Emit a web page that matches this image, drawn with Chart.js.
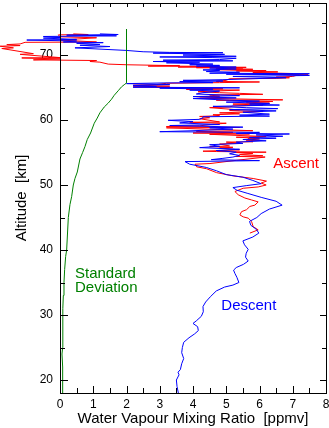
<!DOCTYPE html>
<html>
<head>
<meta charset="utf-8">
<script src="https://cdn.jsdelivr.net/npm/chart.js@4/dist/chart.umd.min.js"></script>
<style>
  html, body { margin: 0; padding: 0; background: #fff; }
  #wrap { width: 329px; height: 428px; }
</style>
</head>
<body>
<div id="wrap"><canvas id="chart" width="329" height="428"></canvas></div>
<script>
// [mixing ratio ppmv, altitude km]
const descent = [
  [3.56,18.0],[3.52,19.0],[3.50,20.0],[3.58,20.8],[3.55,21.2],[3.62,21.6],[3.66,22.5],[3.72,23.3],
  [3.66,24.2],[3.68,25.0],[3.72,25.8],[3.88,26.5],[4.05,27.1],[4.16,27.6],[4.14,28.2],[4.00,28.7],
  [4.10,29.1],[4.25,29.8],[4.31,30.5],[4.30,31.3],[4.38,32.0],[4.52,32.8],[4.70,33.7],[4.95,34.3],
  [5.20,34.6],[5.38,35.0],[5.32,35.8],[5.26,36.4],[5.22,36.9],[5.30,37.3],[5.52,37.8],[5.66,38.3],
  [5.58,38.9],[5.60,39.5],[5.66,40.1],[5.55,40.8],[5.50,41.4],[5.80,42.0],[5.98,42.6],[5.90,43.2],
  [5.74,43.8],[5.70,44.4],[5.92,45.0],[6.05,45.6],[6.30,46.3],[6.68,46.9],[6.50,47.5],[6.05,48.1],
  [5.65,48.7],[5.32,49.2],[5.20,49.6],[5.60,49.9],[6.05,50.2],[5.80,50.7],[5.50,51.2],[5.00,51.6],
  [4.70,52.2],[4.40,52.7],[3.90,53.2],[3.76,53.6],[6.00,53.75],[4.55,53.9],[4.90,54.1],[5.20,54.3],
  [5.40,54.55],[5.10,54.8],[5.30,55.05],[4.70,55.3],[5.40,55.5],[4.20,55.75],[4.80,55.95],[4.50,56.2],
  [5.50,56.4],[5.30,56.6],[6.20,56.8],[5.50,57.0],[6.50,57.2],[5.70,57.3],[6.70,57.5],[5.90,57.7],
  [6.90,57.85],[5.30,57.95],[6.00,58.1],[3.00,58.2],[4.00,58.35],[5.20,58.6],[4.50,58.8],[5.50,58.9],
  [3.30,59.15],[4.80,59.3],[3.60,59.55],[4.00,59.75],[3.25,59.95],[4.20,60.1],[4.30,60.35],[4.30,60.5],
  [6.30,60.6],[5.40,60.75],[6.30,60.9],[5.50,61.2],[6.50,61.4],[5.10,61.6],[6.55,61.75],[5.60,61.9],
  [4.60,62.1],[5.60,62.2],[6.60,62.3],[5.70,62.45],[6.30,62.55],[5.00,62.75],[6.00,62.9],[5.10,63.05],
  [4.00,63.3],[5.30,63.4],[4.00,63.6],[5.40,63.75],[4.10,64.0],[4.30,64.2],[4.80,64.45],[3.90,64.6],
  [4.60,64.75],[3.00,64.9],[5.40,64.95],[2.20,65.05],[2.90,65.15],[2.20,65.3],[3.30,65.45],[2.00,65.6],
  [3.10,65.7],[4.60,65.75],[3.60,65.9],[4.90,66.0],[3.70,66.1],[4.90,66.2],[6.10,66.4],[6.80,66.5],
  [5.20,66.7],[7.50,66.85],[7.20,66.95],[5.00,67.05],[7.50,67.12],[4.50,67.2],[5.40,67.35],[4.40,67.45],
  [4.80,67.6],[4.30,67.7],[5.30,67.85],[4.50,68.0],[5.30,68.15],[4.10,68.3],[4.80,68.4],[3.90,68.5],
  [4.60,68.6],[3.20,68.8],[4.20,68.9],[2.80,69.0],[5.20,69.1],[3.10,69.2],[4.80,69.3],[5.30,69.5],
  [4.60,69.6],[3.00,69.7],[5.30,69.8],[3.70,70.0],[4.95,70.1],[2.80,70.3],[4.90,70.35],[3.30,70.4],
  [2.50,70.5],[2.00,70.7],[0.45,71.1],[1.50,71.3],[0.60,71.5],[1.20,71.6],[0.50,71.8],[1.30,71.9],
  [0.10,72.0],[0.50,72.15],[-1.00,72.3],[0.50,72.4],[-0.50,72.6],[0.00,72.7],[-0.50,72.85],[1.70,72.95],
  [0.20,73.05],[1.75,73.15],[1.20,73.25]
];

const ascent = [
  [5.71,42.6],[5.96,43.1],[5.81,43.6],[5.76,44.4],[5.66,44.9],[5.51,45.1],[5.41,45.4],[5.46,45.9],
  [5.61,46.2],[5.71,46.7],[5.86,46.9],[5.96,47.4],[5.76,47.7],[5.56,48.0],[5.36,48.5],[5.26,49.0],
  [5.51,49.5],[5.96,49.7],[6.20,50.0],[6.05,50.3],[6.21,50.6],[5.81,51.0],[5.21,51.4],[4.71,51.9],
  [4.41,52.5],[4.11,52.8],[4.06,53.2],[4.51,53.3],[5.31,53.8],[6.17,54.3],[5.30,54.4],[6.10,54.5],
  [5.40,54.7],[5.80,54.85],[5.30,55.0],[6.20,55.05],[4.70,55.15],[4.30,55.2],[5.40,55.4],[4.80,55.7],
  [5.20,55.8],[4.50,55.9],[5.10,56.0],[4.80,56.3],[5.40,56.45],[5.00,56.6],[5.80,56.65],[5.60,56.8],
  [6.00,56.9],[5.65,57.1],[6.00,57.2],[5.30,57.35],[6.20,57.45],[4.50,57.8],[5.70,57.85],[4.00,58.0],
  [5.20,58.1],[4.10,58.25],[5.80,58.35],[3.20,58.8],[5.40,58.85],[3.20,59.0],[4.20,59.1],[4.60,59.35],
  [5.00,59.5],[3.90,59.65],[4.80,59.7],[4.20,60.2],[4.50,60.35],[4.20,60.55],[4.80,60.65],[4.60,60.8],
  [5.40,60.95],[4.80,61.1],[6.10,61.3],[5.10,61.45],[5.40,61.55],[4.50,61.9],[5.10,62.0],[5.20,62.15],
  [6.10,62.3],[5.20,62.45],[6.30,62.6],[5.60,62.75],[6.40,62.85],[4.70,63.05],[6.70,63.1],[4.20,63.35],
  [5.00,63.45],[4.10,63.6],[4.80,63.65],[4.50,63.85],[6.10,63.95],[5.40,64.1],[4.80,64.2],[4.15,64.35],
  [5.40,64.6],[3.80,64.7],[4.90,64.8],[2.20,65.1],[3.30,65.2],[2.20,65.35],[2.90,65.45],[3.20,65.65],
  [4.80,65.75],[6.00,65.85],[4.70,65.95],[5.00,66.1],[5.10,66.35],[6.50,66.4],[6.90,66.5],[6.50,66.6],
  [7.00,66.7],[7.10,66.85],[7.46,66.95],[6.10,67.05],[7.00,67.15],[5.80,67.3],[6.55,67.4],[5.30,67.55],
  [6.20,67.6],[5.30,67.65],[4.70,67.75],[5.80,67.8],[4.70,67.95],[5.50,68.0],[4.10,68.05],[5.60,68.1],
  [3.55,68.15],[4.80,68.25],[2.65,68.3],[3.60,68.35],[2.00,68.5],[1.45,68.6],[1.20,68.9],[0.90,69.0],
  [1.10,69.15],[-0.80,69.25],[0.00,69.4],[-1.15,69.55],[0.00,69.6],[-1.20,70.1],[-0.80,70.2],[-1.75,71.0],
  [-1.40,71.1],[-1.80,71.35],[-1.20,71.45],[-1.60,71.6],[-1.20,71.7],[-1.05,71.95],[1.10,72.0],[0.00,72.3],
  [1.10,72.65],[0.00,72.8],[-0.05,73.1],[0.85,73.15],[0.40,73.25]
];

const stdDev = [
  [0.08,18],[0.08,20],[0.08,22],[0.06,24],[0.08,25],[0.08,28],[0.09,31],[0.10,33],[0.12,35],
  [0.14,37],[0.17,39],[0.20,40],[0.22,42],[0.25,45],[0.30,47],[0.35,48.2],[0.40,50],[0.45,51],
  [0.52,52],[0.60,54],[0.68,55],[0.75,55.9],[0.82,57],[0.92,58],[1.03,59.5],[1.12,60.3],[1.20,61.1],
  [1.33,62],[1.45,62.6],[1.55,63.2],[1.63,63.8],[1.75,64.5],[1.85,65.1],[1.95,65.5],[2.00,65.7],[2.00,74.0]
];

const xTickLabels = [0, 1, 2, 3, 4, 5, 6, 7, 8];
const yTickLabels = [20, 30, 40, 50, 60, 70];

const FONT = "'Liberation Sans', Arial, sans-serif";
Chart.defaults.font.family = FONT;
Chart.defaults.color = '#000';

function toPoints(arr) {
  return arr.map(p => ({ x: p[0], y: p[1] }));
}

function lineSet(label, arr, color) {
  return {
    label: label,
    data: toPoints(arr),
    showLine: true,
    borderColor: color,
    borderWidth: 1,
    pointRadius: 0,
    tension: 0,
    clip: false
  };
}

// frame plus inward tick marks on all four sides
const frameTicks = {
  id: 'frameTicks',
  afterDatasetsDraw(chart) {
    const { ctx, chartArea: a, scales } = chart;
    const xs = scales.x, ys = scales.y;
    ctx.save();
    ctx.strokeStyle = '#000';
    ctx.lineWidth = 1;
    ctx.strokeRect(a.left + 0.5, a.top + 0.5, a.right - a.left, a.bottom - a.top);
    ctx.beginPath();
    for (let v = 0; v <= 8.001; v += 0.5) {
      const px = Math.round(xs.getPixelForValue(v)) + 0.5;
      const major = Math.abs(v - Math.round(v)) < 0.01;
      ctx.moveTo(px, a.bottom);
      ctx.lineTo(px, a.bottom - (major ? 7 : 5));
      ctx.moveTo(px, a.top);
      ctx.lineTo(px, a.top + 4);
    }
    for (let v = 20; v <= 75; v += 5) {
      const py = Math.round(ys.getPixelForValue(v)) + 0.5;
      const major = v % 10 === 0;
      ctx.moveTo(a.left, py);
      ctx.lineTo(a.left + (major ? 8 : 5), py);
      ctx.moveTo(a.right, py);
      ctx.lineTo(a.right - (major ? 6 : 4), py);
    }
    ctx.stroke();

    // curve labels
    ctx.font = '15px ' + FONT;
    ctx.textBaseline = 'middle';
    ctx.textAlign = 'center';
    ctx.fillStyle = '#ff0000';
    ctx.fillText('Ascent', xs.getPixelForValue(7.1), ys.getPixelForValue(53.2));
    ctx.fillStyle = '#0000ff';
    ctx.fillText('Descent', xs.getPixelForValue(5.68), ys.getPixelForValue(31.4));
    ctx.textAlign = 'left';
    ctx.fillStyle = '#008000';
    ctx.fillText('Standard', xs.getPixelForValue(0.45), ys.getPixelForValue(36.4));
    ctx.fillText('Deviation', xs.getPixelForValue(0.45), ys.getPixelForValue(34.1));
    ctx.restore();
  }
};

new Chart(document.getElementById('chart'), {
  type: 'scatter',
  data: {
    datasets: [
      lineSet('Standard Deviation', stdDev, '#008000'),
      lineSet('Descent', descent, '#0000ff'),
      lineSet('Ascent', ascent, '#ff0000')
    ]
  },
  options: {
    responsive: false,
    animation: false,
    devicePixelRatio: 1,
    layout: { padding: { top: 3, right: 3, left: 0, bottom: 0 } },
    plugins: { legend: { display: false }, tooltip: { enabled: false } },
    scales: {
      x: {
        type: 'linear',
        min: 0,
        max: 8,
        grid: { display: false, drawTicks: false },
        border: { display: false },
        afterBuildTicks: s => { s.ticks = xTickLabels.map(v => ({ value: v })); },
        afterFit: s => { s.height = 35; s.paddingLeft = 0; s.paddingRight = 0; },
        ticks: { padding: 4, maxRotation: 0, font: { size: 12 } },
        title: {
          display: true,
          text: 'Water Vapour Mixing Ratio  [ppmv]',
          font: { size: 15 },
          padding: { top: 0, bottom: 0 }
        }
      },
      y: {
        type: 'linear',
        min: 18,
        max: 78,
        grid: { display: false, drawTicks: false },
        border: { display: false },
        afterBuildTicks: s => { s.ticks = yTickLabels.map(v => ({ value: v })); },
        afterFit: s => { s.width = 60; s.paddingTop = 0; s.paddingBottom = 0; },
        ticks: { padding: 7, font: { size: 12 } },
        title: {
          display: true,
          text: 'Altitude  [km]',
          font: { size: 15 },
          padding: { top: 13, bottom: 0 }
        }
      }
    }
  },
  plugins: [frameTicks]
});
</script>
</body>
</html>
